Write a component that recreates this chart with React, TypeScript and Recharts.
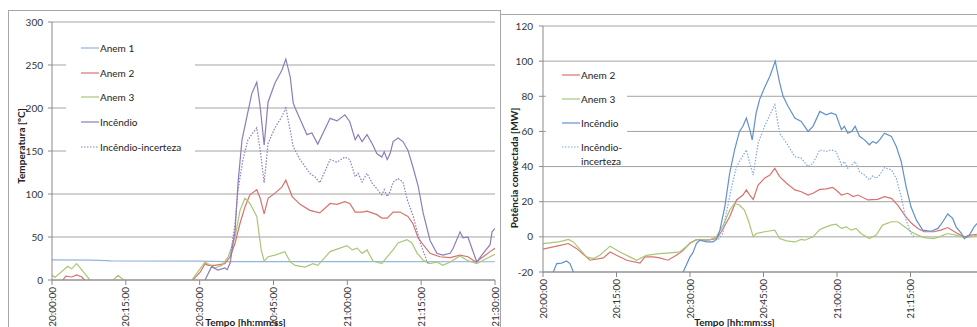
import React from "react";
import { LineChart, Line, XAxis, YAxis, CartesianGrid } from "recharts";

type Pt = [number, number];

const FONT = "Lato, 'Open Sans', sans-serif";

// x values are minutes after 20:00:00
const timeTicks = [0, 15, 30, 45, 60, 75, 90];
const timeTicksRight = [0, 15, 30, 45, 60, 75];
const tempTicks = [0, 50, 100, 150, 200, 250, 300];
const powerTicks = [-20, 0, 20, 40, 60, 80, 100, 120];

// ---- left chart: Temperatura [ºC]
const tempAnem1: Pt[] = [[0, 23.3], [8, 23.2], [11, 22.6], [12, 22.2], [30, 22], [36, 21.4], [60, 21.3], [90, 21.2]];
const tempAnem2: Pt[] = [
  [0, -6], [2.2, 0], [2.8, 4.5], [4, 3.5], [5, 6], [6, 3.8], [6.6, 0], [7.5, -6], [27.5, -6], [28.6, 0],
  [30.1, 9], [31.1, 19], [31.7, 17], [33.1, 17], [35.1, 19], [36.2, 27], [37.2, 43], [38.2, 66], [39.2, 85],
  [40.2, 99], [41.6, 105], [42.3, 95], [43.1, 77], [43.9, 95], [45.3, 101], [46.7, 108], [47.5, 116], [48.8, 97],
  [50.4, 88], [52.4, 81], [54.4, 78], [56.5, 89], [57.9, 88], [59.5, 91], [60.5, 89], [61.6, 79], [63, 79],
  [64, 80], [65, 78], [66, 76], [67, 72], [68.1, 72], [69.3, 79], [70.7, 79], [72.3, 74], [73.3, 66], [74.4, 49],
  [75.4, 41], [76.8, 31], [78.8, 27], [80.9, 26], [82.9, 29], [84.5, 27], [86.1, 21], [87.6, 27], [89, 33], [90, 37],
];
const tempAnem3: Pt[] = [
  [0, 6], [0.6, 3], [3.2, 16], [4, 13], [5, 19], [6, 12], [7.7, 0], [9, -6], [12.3, -1], [13.4, 5.5], [14.8, -1],
  [16, -6], [27, -6], [28.4, 0], [29.7, 10], [31.1, 21], [33.1, 14], [34.5, 17], [35.8, 27], [37.2, 50], [38.2, 81],
  [39.2, 95], [40.2, 89], [41.6, 74], [42.5, 35], [43.1, 22], [43.9, 27], [45.3, 29], [47.3, 33], [48.4, 21],
  [49.4, 17], [51.4, 15], [53, 19], [54, 17], [56.5, 33], [58.5, 37], [59.9, 40], [61, 35], [62, 37], [63, 31],
  [64, 35], [65.2, 22], [67, 19], [68.1, 27], [69.3, 35], [70.3, 43], [72.1, 47], [73.1, 43], [74.2, 31],
  [75.4, 23], [76.8, 19], [78.2, 21], [79.4, 17], [80.9, 21], [82.9, 28], [84.3, 23], [86.3, 19], [87.6, 23],
  [89, 27], [90, 30],
];
const tempFire: Pt[] = [
  [30.5, -5], [31.1, 0], [32.4, 15.5], [33.7, 11.6], [35.1, 14], [35.6, 12], [36.2, 20], [37.2, 58], [37.8, 113],
  [38.6, 163], [39.6, 190], [40.6, 217], [41.6, 230], [42.3, 201], [43.1, 157], [43.9, 207], [45.3, 229],
  [46.7, 244], [47.5, 257], [48.4, 236], [49, 206], [49.4, 200], [51.8, 169], [52.8, 171], [54, 158], [56.5, 188],
  [57.9, 185], [59.5, 192], [60.5, 184], [61.6, 163], [62.2, 169], [63, 161], [64, 169], [65, 159], [66, 147],
  [67, 143], [67.5, 149], [68.1, 140], [68.7, 147], [69.3, 161], [70.3, 165], [71.3, 161], [72.3, 151],
  [73.3, 132], [74.4, 109], [75.4, 78], [76.8, 46], [78.2, 31], [79.4, 29], [80.9, 31], [81.5, 37], [82.9, 56],
  [83.5, 49], [84.5, 50], [85.3, 37], [86.3, 21], [87.6, 31], [89, 41], [89.4, 56], [90, 60],
];
const tempFireUnc: Pt[] = [
  [36.2, 27], [37.2, 66], [37.8, 105], [38.8, 140], [39.8, 163], [40.8, 171], [41.6, 177], [42.3, 151], [43.1, 113],
  [43.9, 159], [45.3, 177], [46.7, 190], [47.5, 200], [48.4, 174], [49, 155], [50.4, 140], [52.4, 124], [53.4, 120],
  [54.4, 113], [56.5, 140], [57.9, 137], [59.5, 143], [60.5, 140], [61.6, 120], [62.2, 124], [63, 114], [64, 124],
  [65, 113], [66, 106], [67, 99], [67.5, 105], [68.1, 97], [68.7, 103], [69.3, 114], [70.3, 118], [71.3, 114],
  [72.2, 93], [73.4, 74], [74.8, 43], [76.1, 23], [76.5, 18],
];

// ---- right chart: Potência convectada [MW]
const powAnem2: Pt[] = [
  [0, -7], [1.4, -6.1], [3.5, -4.8], [5.2, -3.8], [6.9, -6.7], [9.6, -13.3], [12.3, -12], [13.7, -8.6], [15, -10.5],
  [17.1, -13.3], [19.8, -14.9], [20.8, -11.4], [22.5, -11.4], [23.8, -12], [25.5, -13.3], [27.2, -10.5], [28.5, -8],
  [30, -3.5], [31.3, -1.5], [33.4, -1.9], [35.4, -1], [36.4, 2.9], [38.1, 11.4], [39.5, 21], [40.8, 23.8],
  [41.5, 26.7], [42.2, 23.8], [42.9, 21.3], [43.9, 29.5], [45.2, 33.3], [46.3, 35.2], [47.3, 39], [48.3, 34.3],
  [49.7, 30.5], [51.4, 26.7], [52.7, 25.7], [54.1, 23.8], [55.1, 24.8], [56.5, 27], [57.8, 27.3], [59.1, 28.2],
  [59.8, 26.7], [60.9, 23.8], [62.2, 24.8], [63.3, 22.9], [64.3, 23.8], [66.3, 21], [68.3, 21.3], [69.7, 22.9],
  [71.1, 21.9], [72.4, 18.1], [73.8, 12.4], [75.1, 8], [76.5, 4.8], [77.8, 2.9], [79.8, 2.9], [81.2, 3.8],
  [82.6, 5.3], [84.3, 2.3], [86, 0], [87.3, 1], [88.6, 1.5],
];
const powAnem3: Pt[] = [
  [0, -3.8], [1.4, -3.4], [3.1, -2.9], [4.1, -2.3], [5.2, -1.5], [6.2, -2.9], [8.9, -11.4], [10.3, -12.4],
  [11.6, -10.5], [13.7, -5.3], [15.7, -8.6], [17.7, -11.4], [19.1, -13.3], [21.1, -10.5], [23.8, -9.5],
  [25.9, -9.1], [27.9, -8.6], [30, -3.8], [31.5, -1.5], [33.9, -1.9], [35.4, 0], [36.8, 6.7], [38.1, 15.2],
  [39.1, 19], [40.1, 18.1], [41.1, 15.2], [42, 8.6], [42.9, 0], [43.5, 1.9], [45.2, 2.9], [47.3, 3.8], [48.3, -1],
  [49.7, -2.3], [51.4, -2.9], [52.7, -1.5], [53.4, -1.9], [55.1, 0], [56.5, 4.2], [57.8, 5.7], [58.8, 6.7],
  [59.8, 7.2], [60.9, 4.8], [61.9, 5.7], [62.9, 3.8], [63.9, 4.8], [64.9, 1.9], [66.6, -1], [68, 1], [69.3, 6.7],
  [71.1, 8.6], [72.4, 8.6], [73.8, 5.7], [75.1, 2.9], [76.5, 1], [77.8, -0.4], [79.8, -1], [81.2, 0.4],
  [82.6, 1.9], [84.3, 1], [86, -0.4], [87.3, 0], [88.6, 1],
];
const powFire: Pt[] = [
  [0, -32], [1.6, -27], [2.1, -20], [2.8, -15.2], [3.8, -14.9], [4.8, -13.7], [5.5, -15.2], [6.2, -20], [7, -27],
  [27.8, -27], [28.6, -20], [30, -11.4], [30.6, -9], [31.3, -3.8], [32, -1.9], [33.4, -2.9], [34.7, -2.9],
  [35.4, -1.5], [36.1, 3.8], [37.1, 17.1], [38.1, 36.2], [39.1, 49.5], [40.1, 60], [40.8, 62.9], [41.5, 67.6],
  [42.2, 61], [42.7, 55.2], [43.5, 70.5], [44.2, 78.1], [45.2, 84.8], [46.3, 91.4], [47.4, 100], [48.3, 87.6],
  [49, 80], [50, 74.3], [51.4, 67.6], [52.7, 65.7], [54.1, 60], [55.1, 62.9], [56.5, 71.4], [57.8, 69.5],
  [58.8, 70.5], [59.8, 69.5], [60.9, 61], [61.5, 62.9], [62.2, 59], [63, 60], [63.7, 62.9], [64.6, 57.2],
  [65.6, 55.2], [66.6, 52.4], [67.3, 54.3], [68, 53.3], [68.7, 55.2], [69.7, 59], [71.1, 57.2], [72.1, 51.4],
  [73.1, 42.9], [74.1, 28.6], [75.1, 17.1], [76.2, 9.5], [77.5, 3.8], [79.2, 3.2], [80.6, 4.8], [81.6, 8.6],
  [82.6, 13], [83.6, 10.5], [84.3, 5.7], [85.3, 2.3], [86, -1], [87, 1], [88, 5.7], [88.6, 7.6],
];
const powFireUnc: Pt[] = [
  [35.8, -1.5], [36.7, 1.9], [37.4, 13.3], [38.5, 28.6], [39.5, 40], [40.5, 44.8], [41.5, 49.5], [42.2, 41.9],
  [42.9, 35.2], [43.9, 53.3], [45.2, 62.9], [47.3, 75.2], [48.3, 59], [49.7, 53.3], [51.4, 45.7], [52.7, 44.8],
  [54.1, 40], [55.1, 41.9], [56.5, 49.5], [57.8, 48.6], [58.8, 49.5], [59.8, 48.6], [60.9, 41], [61.5, 42.9],
  [62.2, 39], [63, 41], [63.7, 42.9], [64.6, 37.1], [65.6, 35.2], [66.6, 32.4], [67.3, 34.7], [68, 33.3],
  [68.7, 35.2], [69.7, 39.4], [71.1, 38.1], [72.1, 33.3], [73.1, 22.9], [74.1, 9.5], [75.1, 1.9], [75.8, 0],
];

const COLORS = {
  anem1: "#95B3D7",
  red: "#D8726E",
  green: "#AAC676",
  purple: "#8E7CBA",
  blue: "#6190CE",
  blueDot: "#82A8DA",
};

interface SeriesDef {
  name: string;
  pts: Pt[];
  color: string;
  dotted?: boolean;
}

const leftSeries: SeriesDef[] = [
  { name: "Anem 1", pts: tempAnem1, color: COLORS.anem1 },
  { name: "Anem 2", pts: tempAnem2, color: COLORS.red },
  { name: "Anem 3", pts: tempAnem3, color: COLORS.green },
  { name: "Incêndio", pts: tempFire, color: COLORS.purple },
  { name: "Incêndio-incerteza", pts: tempFireUnc, color: COLORS.purple, dotted: true },
];

const rightSeries: SeriesDef[] = [
  { name: "Anem 2", pts: powAnem2, color: COLORS.red },
  { name: "Anem 3", pts: powAnem3, color: COLORS.green },
  { name: "Incêndio", pts: powFire, color: COLORS.blue },
  { name: "Incêndio-\nincerteza", pts: powFireUnc, color: COLORS.blueDot, dotted: true },
];

const toRows = (pts: Pt[]) => pts.map(([t, v]) => ({ t, v }));

function fmtTime(m: number) {
  const h = 20 + Math.floor(m / 60);
  const mm = m % 60;
  return `${h}:${String(mm).padStart(2, "0")}:00`;
}

function TimeTick({ x, y, payload }: any) {
  return (
    <text
      x={x}
      y={y}
      transform={`rotate(-90 ${x} ${y})`}
      textAnchor="end"
      dy="0.35em"
      fontSize={10}
      fill="#333"
      fontFamily={FONT}
    >
      {fmtTime(payload.value)}
    </text>
  );
}

const GRID = "#a3a3a3";
const AXIS = "#8a8a8a";
const tickStyle = { fontSize: 10, fill: "#333", fontFamily: FONT };
const titleStyle = { fontSize: 10, fontWeight: 700, fill: "#222", fontFamily: FONT, textAnchor: "middle" as const };

function Legend({ items, box, rowH }: { items: SeriesDef[]; box: React.CSSProperties; rowH: number }) {
  return (
    <div style={{ position: "absolute", background: "#fff", fontFamily: FONT, fontSize: 10, color: "#222", ...box }}>
      {items.map((s) => (
        <div key={s.name} style={{ display: "flex", alignItems: "flex-start", height: rowH }}>
          <svg width={18} height={14} style={{ flexShrink: 0, marginTop: (rowH - 14) / 2 }}>
            <line x1={0} x2={18} y1={7} y2={7} stroke={s.color} strokeWidth={1.2} strokeDasharray={s.dotted ? "1.5 1.5" : undefined} />
          </svg>
          <span style={{ whiteSpace: "pre", lineHeight: "14px", marginTop: (rowH - 14) / 2, marginLeft: 1 }}>{s.name}</span>
        </div>
      ))}
    </div>
  );
}

function seriesLines(list: SeriesDef[]) {
  return list.map((s) => (
    <Line
      key={s.name}
      data={toRows(s.pts)}
      dataKey="v"
      type="linear"
      stroke={s.color}
      strokeWidth={1.2}
      strokeDasharray={s.dotted ? "1.5 1.5" : undefined}
      dot={false}
      activeDot={false}
      isAnimationActive={false}
    />
  ));
}

export default function App() {
  return (
    <div style={{ position: "absolute", left: 0, top: 0, width: 977, height: 327, overflow: "hidden", background: "#fff" }}>
      {/* left chart */}
      <div style={{ position: "absolute", left: 8, top: 10, width: 493, height: 340, border: "1px solid #a6a6a6", boxSizing: "border-box" }}>
        <LineChart width={491} height={316} margin={{ top: 11, right: 5, bottom: 0, left: 0 }}>
          <CartesianGrid vertical={false} stroke={GRID} />
          <XAxis
            dataKey="t"
            type="number"
            domain={[0, 90]}
            ticks={timeTicks}
            interval={0}
            allowDataOverflow
            height={47}
            stroke={AXIS}
            tickSize={5}
            tickMargin={2}
            tick={<TimeTick />}
            label={{ value: "Tempo [hh:mm:ss]", position: "insideBottom", offset: 1, dx: -28, style: titleStyle }}
          />
          <YAxis
            type="number"
            domain={[0, 300]}
            ticks={tempTicks}
            interval={0}
            allowDataOverflow
            width={43}
            stroke={AXIS}
            tickSize={4}
            tickMargin={5}
            tick={tickStyle}
            label={{ value: "Temperatura [ºC]", angle: -90, position: "insideLeft", offset: 12, dy: -5, style: titleStyle }}
          />
          {seriesLines(leftSeries)}
        </LineChart>
      </div>

      {/* right chart, its right end runs past the picture edge */}
      <div style={{ position: "absolute", left: 500, top: 14, width: 520, height: 340, border: "1px solid #a6a6a6", boxSizing: "border-box" }}>
        <LineChart width={500} height={312} margin={{ top: 11, right: 17, bottom: 0, left: 0 }}>
          <CartesianGrid vertical={false} stroke={GRID} />
          <XAxis
            dataKey="t"
            type="number"
            domain={[0, 90]}
            ticks={timeTicksRight}
            interval={0}
            allowDataOverflow
            height={55}
            stroke={AXIS}
            tickSize={5}
            tickMargin={2}
            tick={<TimeTick />}
            label={{ value: "Tempo [hh:mm:ss]", position: "insideBottom", offset: 1, dx: -29, style: titleStyle }}
          />
          <YAxis
            type="number"
            domain={[-20, 120]}
            ticks={powerTicks}
            interval={0}
            allowDataOverflow
            width={42}
            stroke={AXIS}
            tickSize={4}
            tickMargin={6}
            tick={tickStyle}
            label={{ value: "Potência convectada [MW]", angle: -90, position: "insideLeft", offset: 13, dy: 19, style: titleStyle }}
          />
          {seriesLines(rightSeries)}
        </LineChart>
      </div>

      <Legend items={leftSeries} rowH={24.75} box={{ left: 66, top: 35.6, width: 129, paddingLeft: 15, boxSizing: "border-box" }} />
      <Legend items={rightSeries} rowH={24} box={{ left: 546, top: 63, width: 81, height: 102, paddingLeft: 16, boxSizing: "border-box" }} />
    </div>
  );
}
